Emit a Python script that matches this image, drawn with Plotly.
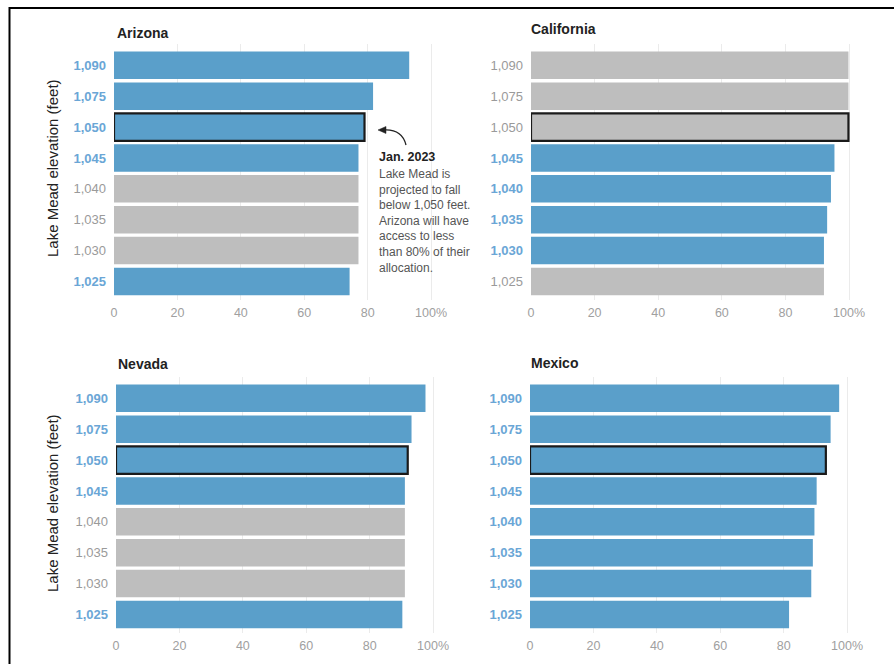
import plotly.graph_objects as go

W, H = 894, 664

elevations = ["1,090", "1,075", "1,050", "1,045", "1,040", "1,035", "1,030", "1,025"]
x_ticks = [0, 20, 40, 60, 80, 100]
x_tick_labels = ["0", "20", "40", "60", "80", "100%"]

arizona = [93.1, 81.7, 79.0, 77.1, 77.1, 77.1, 77.1, 74.3]
arizona_active = [True, True, True, True, False, False, False, True]

california = [99.8, 99.8, 99.8, 95.4, 94.3, 93.1, 92.1, 92.1]
california_active = [False, False, False, True, True, True, True, False]

nevada = [97.6, 93.2, 92.0, 91.1, 91.1, 91.1, 91.1, 90.3]
nevada_active = [True, True, True, True, False, False, False, True]

mexico = [97.5, 94.8, 93.3, 90.4, 89.7, 89.2, 88.7, 81.7]
mexico_active = [True, True, True, True, True, True, True, True]

highlight = "1,050"
states = ["Arizona", "California", "Nevada", "Mexico"]

BLUE = "#5a9fca"
GREY = "#bebebe"
BLUE_TXT = "#6aa6d6"
GREY_TXT = "#9a9a9a"
FONT = "Liberation Sans, Arial, sans-serif"


def px(x):
    return x / W


def py(y):
    return 1 - y / H


# panel pixel geometry: (x0, x100, ytop, ybottom)
panels = [
    (114, 433, 44, 300),
    (531, 851, 44, 300),
    (116, 435, 377, 633),
    (530, 849, 377, 633),
]
titles_pos = [(115, 33), (529, 29), (116, 364), (529, 363)]

data_sets = [
    (arizona, arizona_active),
    (california, california_active),
    (nevada, nevada_active),
    (mexico, mexico_active),
]

fig = go.Figure()
layout = dict(
    width=W, height=H,
    margin=dict(l=0, r=0, t=0, b=0),
    paper_bgcolor="white", plot_bgcolor="white",
    showlegend=False,
    font=dict(family=FONT, color="#333"),
    bargap=0.11,
)
annotations = []
shapes = []
order_bottom_up = elevations[::-1]

for i, (name, (vals, active), (x0, x1, yt, yb), (tx, ty)) in enumerate(
        zip(states, data_sets, panels, titles_pos)):
    idx = "" if i == 0 else str(i + 1)
    xa, ya = "x" + idx, "y" + idx
    colors = [BLUE if a else GREY for a in active]
    lw = [2.2 if e == highlight else 0 for e in elevations]
    lc = ["#1a1a1a" if e == highlight else "white" for e in elevations]
    fig.add_trace(go.Bar(
        x=vals, y=elevations, orientation="h",
        marker=dict(color=colors, line=dict(color=lc, width=lw)),
        xaxis=xa, yaxis=ya, hoverinfo="skip",
    ))
    ticktext = []
    for e, a in zip(elevations, active):
        if a:
            ticktext.append(f"<b><span style='color:{BLUE_TXT}'>{e}</span></b>")
        else:
            ticktext.append(f"<span style='color:{GREY_TXT}'>{e}</span>")
    layout["xaxis" + idx] = dict(
        domain=[px(x0), px(x1)], range=[0, 100.6], anchor=ya,
        tickvals=x_ticks, ticktext=x_tick_labels,
        showgrid=True, gridcolor="#ebebeb", gridwidth=1, zeroline=False,
        showline=False, ticks="", automargin=False, ticklabelstandoff=3,
        tickfont=dict(size=12.5, color="#a0a0a0", family=FONT),
        fixedrange=True,
    )
    layout["yaxis" + idx] = dict(
        domain=[py(yb), py(yt)], anchor=xa,
        type="category", categoryorder="array", categoryarray=order_bottom_up,
        range=[-0.6, 7.69],
        tickvals=elevations, ticktext=ticktext,
        showgrid=False, zeroline=False, showline=False, ticks="",
        automargin=False, ticklabelstandoff=7,
        tickfont=dict(size=13, family=FONT),
        fixedrange=True,
    )
    annotations.append(dict(
        text=f"<b>{name}</b>", x=px(tx), y=py(ty), xref="paper", yref="paper",
        xanchor="left", yanchor="middle", showarrow=False,
        font=dict(size=14, color="#222", family=FONT),
    ))

# y-axis titles
for cy in (168, 503):
    annotations.append(dict(
        text="Lake Mead elevation (feet)", x=px(52), y=py(cy),
        xref="paper", yref="paper", textangle=-90, showarrow=False,
        xanchor="center", yanchor="middle",
        font=dict(size=15, color="#222", family=FONT),
    ))

# Arizona note
annotations.append(dict(
    text="<b>Jan. 2023</b>", x=px(377), y=py(157.5), xref="paper", yref="paper",
    xanchor="left", yanchor="middle", showarrow=False,
    font=dict(size=12.5, color="#222", family=FONT),
))
note_lines = ["Lake Mead is", "projected to fall", "below 1,050 feet.",
              "Arizona will have", "access to less", "than 80% of their",
              "allocation."]
annotations.append(dict(
    text="<br>".join(note_lines), x=px(377), y=py(165), xref="paper", yref="paper",
    xanchor="left", yanchor="top", align="left", showarrow=False,
    font=dict(size=12, color="#555", family=FONT),
))


def path_px(points_cmd):
    out = []
    for tok in points_cmd:
        if isinstance(tok, str):
            out.append(tok)
        else:
            out.append(f"{px(tok[0]):.5f},{py(tok[1]):.5f}")
    return " ".join(out)


shapes.append(dict(
    type="path", xref="paper", yref="paper",
    path=path_px(["M", (406, 145), "Q", (402, 129), (384, 130)]),
    line=dict(color="#222", width=1.3),
))
shapes.append(dict(
    type="path", xref="paper", yref="paper",
    path=path_px(["M", (378, 130), "L", (386, 126.5), "L", (386, 133.5), "Z"]),
    fillcolor="#222", line=dict(color="#222", width=0.5),
))

# frame lines (top and left)
shapes.append(dict(type="line", xref="paper", yref="paper",
                   x0=px(9), x1=1, y0=py(8), y1=py(8),
                   line=dict(color="black", width=2)))
shapes.append(dict(type="line", xref="paper", yref="paper",
                   x0=px(9.5), x1=px(9.5), y0=py(7), y1=0,
                   line=dict(color="black", width=2)))

layout["annotations"] = annotations
layout["shapes"] = shapes
fig.update_layout(**layout)
fig.write_html("out.html")
